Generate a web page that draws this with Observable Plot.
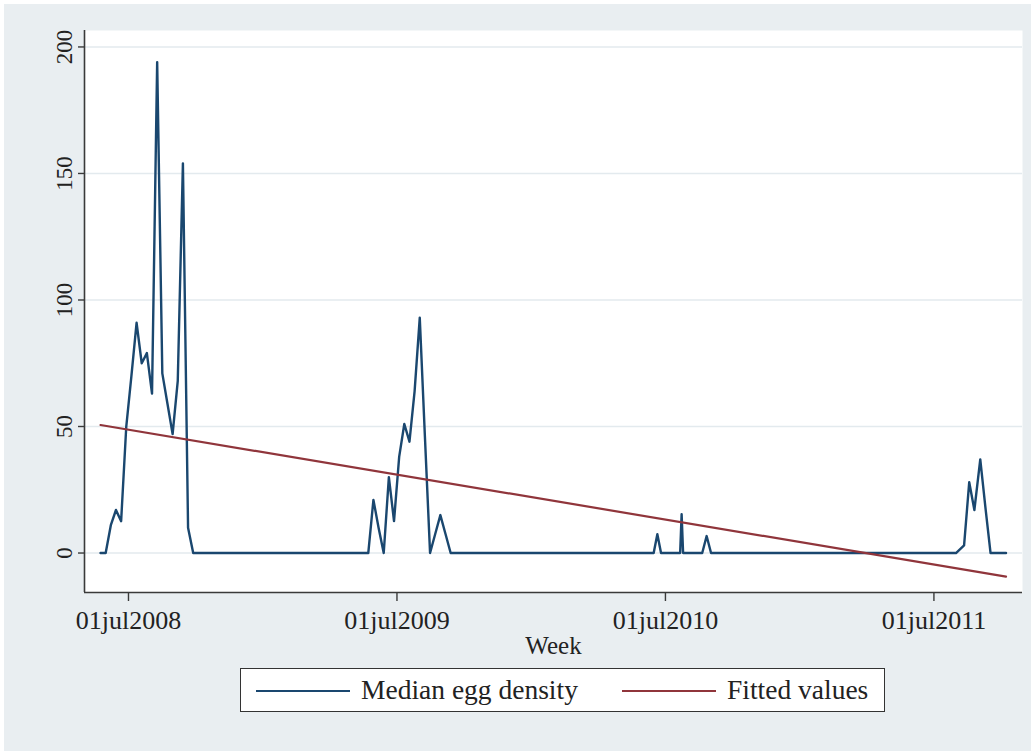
<!DOCTYPE html>
<html>
<head>
<meta charset="utf-8">
<script src="https://cdn.jsdelivr.net/npm/d3@7"></script>
<script src="https://cdn.jsdelivr.net/npm/@observablehq/plot@0.6"></script>
<style>
  html, body { margin: 0; padding: 0; background: #ffffff; }
  body { width: 1036px; height: 755px; position: relative; overflow: hidden;
         font-family: "Liberation Serif", "Times New Roman", serif; color: #222; }
  #bg { position: absolute; left: 4px; top: 4px; width: 1027px; height: 747px; background: #e9eef1; }
  #chart { position: absolute; left: 0; top: 0; }
  #legend { position: absolute; left: 240px; top: 668px; width: 645px; height: 44px;
            box-sizing: border-box; border: 1.5px solid #333; background: #fff; }
  #legend .sw { position: absolute; top: 21px; height: 2.4px; width: 94px; }
  #legend .lt { position: absolute; top: 5px; font-size: 27.5px; line-height: 32px; white-space: nowrap; color: #222; }
</style>
</head>
<body>
<div id="bg"></div>
<div id="chart"></div>
<div id="legend"></div>
<script>
// ---- data ----
const weeks = [
  "2008-05-24","2008-05-31","2008-06-07","2008-06-14","2008-06-21","2008-06-28",
  "2008-07-05","2008-07-12","2008-07-19","2008-07-26","2008-08-02","2008-08-09",
  "2008-08-16","2008-08-23","2008-08-30","2008-09-06","2008-09-13","2008-09-20",
  "2008-09-27",
  "2009-05-23","2009-05-30","2009-06-06","2009-06-13","2009-06-20","2009-06-27",
  "2009-07-04","2009-07-11","2009-07-18","2009-07-25","2009-08-01","2009-08-08",
  "2009-08-15","2009-08-22","2009-08-29","2009-09-05","2009-09-12",
  "2010-06-15","2010-06-20","2010-06-25","2010-07-21","2010-07-23","2010-07-25",
  "2010-08-20","2010-08-26","2010-09-01",
  "2011-07-31","2011-08-11","2011-08-18","2011-08-25","2011-09-02","2011-09-09",
  "2011-09-16","2011-10-07"
];
const eggDensity = [
  0, 0, 11, 17, 12.6, 50,
  70, 91, 75, 79, 63, 194,
  71, 59, 47, 68, 154, 10,
  0,
  0, 21, 10, 0, 30, 12.6,
  38, 51, 44, 64, 93, 46,
  0, 7.5, 15, 7.5, 0,
  0, 7.4, 0, 0, 15.3, 0,
  0, 6.7, 0,
  0, 3, 28, 17, 37, 18,
  0, 0
];
const fitWeeks = ["2008-05-24", "2011-10-07"];
const fitValues = [50.6, -9.3];

const seriesNames = ["Median egg density", "Fitted values"];
const seriesColors = ["#1a476f", "#90353b"];
const yTicks = [0, 50, 100, 150, 200];
const xTickDates = ["2008-07-01", "2009-07-01", "2010-07-01", "2011-07-01"];
const xTickLabels = ["01jul2008", "01jul2009", "01jul2010", "01jul2011"];
const xTitle = "Week";

// ---- build tables ----
const eggData = weeks.map((w, i) => ({week: new Date(w), value: eggDensity[i]}));
const fitData = fitWeeks.map((w, i) => ({week: new Date(w), value: fitValues[i]}));
const xTicks = xTickDates.map(d => new Date(d));
const labelFor = new Map(xTicks.map((d, i) => [+d, xTickLabels[i]]));

const xDomain = [new Date("2008-05-02T05:00:00Z"), new Date("2011-10-29T10:00:00Z")];
const yDomain = [-15.6, 206.5];
const axisColor = "#3a3a3a";

const plot = Plot.plot({
  width: 1036,
  height: 660,
  marginLeft: 84,
  marginRight: 14,
  marginTop: 30,
  marginBottom: 68,
  style: {background: "transparent", fontFamily: "'Liberation Serif', 'Times New Roman', serif", color: "#222"},
  x: {type: "utc", domain: xDomain, label: null},
  y: {domain: yDomain, label: null},
  marks: [
    Plot.frame({fill: "#ffffff", stroke: null}),
    Plot.gridY(yTicks, {stroke: "#e3eaee", strokeOpacity: 1, strokeWidth: 1.5}),
    Plot.line(eggData, {x: "week", y: "value", stroke: seriesColors[0], strokeWidth: 2.4}),
    Plot.line(fitData, {x: "week", y: "value", stroke: seriesColors[1], strokeWidth: 2.2}),
    Plot.ruleX([xDomain[0]], {stroke: axisColor, strokeWidth: 1.6}),
    Plot.ruleY([yDomain[0]], {stroke: axisColor, strokeWidth: 1.6}),
    Plot.axisY(yTicks, {tickSize: 6, tickPadding: 7, tickRotate: -90, fontSize: 23,
                        stroke: axisColor, strokeWidth: 1.4, tickFormat: d => String(d)}),
    Plot.axisX(xTicks, {tickSize: 9, tickPadding: 9, fontSize: 26,
                        stroke: axisColor, strokeWidth: 1.4, tickFormat: d => labelFor.get(+d)}),
    Plot.text([xTitle], {frameAnchor: "bottom", dy: 61, fontSize: 25, fill: "#222"})
  ]
});
document.getElementById("chart").appendChild(plot);

// ---- legend (HTML, below the axis) ----
const legend = document.getElementById("legend");
const swLeft = [15, 381];
const txLeft = [120, 486];
seriesNames.forEach((name, i) => {
  const sw = document.createElement("div");
  sw.className = "sw";
  sw.style.left = swLeft[i] + "px";
  sw.style.background = seriesColors[i];
  legend.appendChild(sw);
  const t = document.createElement("div");
  t.className = "lt";
  t.style.left = txLeft[i] + "px";
  t.textContent = name;
  legend.appendChild(t);
});
</script>
</body>
</html>
